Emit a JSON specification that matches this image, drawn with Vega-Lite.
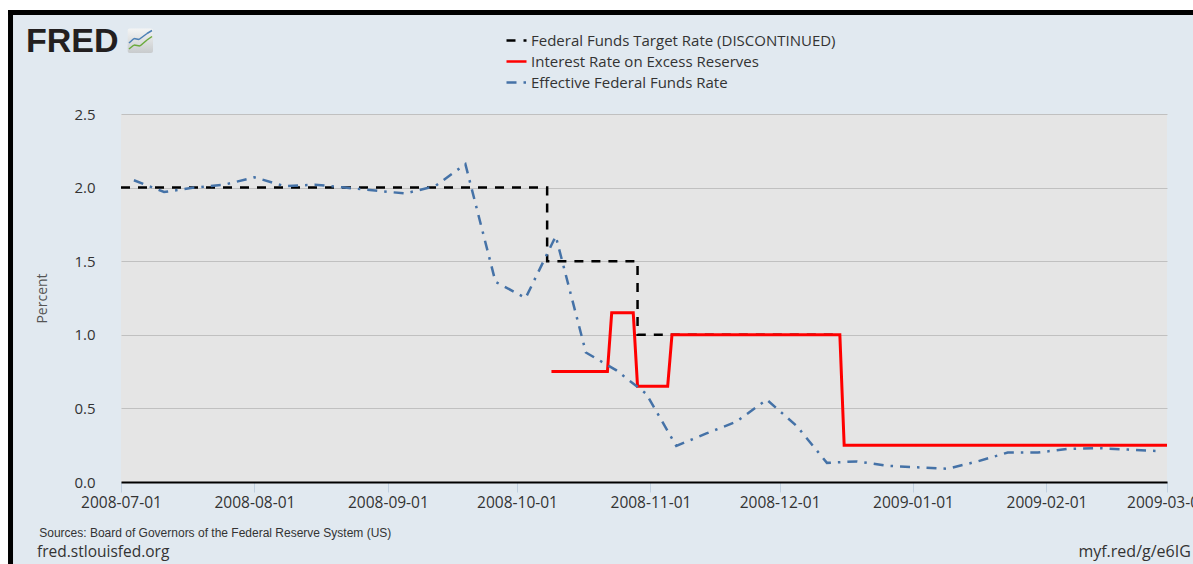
{
  "$schema": "https://vega.github.io/schema/vega-lite/v6.json",
  "width": 1046,
  "height": 368,
  "autosize": {"type": "none"},
  "padding": {"left": 121, "top": 114, "right": 26, "bottom": 82},
  "background": "#E1E9F0",
  "config": {
    "view": {"fill": "#E5E5E5", "stroke": null},
    "font": "Open Sans",
    "legend": {
      "orient": "none",
      "legendX": 384,
      "legendY": -85,
      "direction": "vertical",
      "symbolType": "stroke",
      "symbolSize": 400,
      "symbolStrokeWidth": 2.5,
      "labelFontSize": 15,
      "labelFont": "Open Sans",
      "labelColor": "#333333",
      "labelOffset": 3,
      "labelLimit": 500,
      "rowPadding": 1,
      "padding": 0,
      "title": null
    }
  },
  "datasets": {
    "rates": [
      {"series": "Federal Funds Target Rate (DISCONTINUED)", "date": "2008-07-01", "value": 2.0},
      {"series": "Federal Funds Target Rate (DISCONTINUED)", "date": "2008-10-08", "value": 1.5},
      {"series": "Federal Funds Target Rate (DISCONTINUED)", "date": "2008-10-29", "value": 1.0},
      {"series": "Federal Funds Target Rate (DISCONTINUED)", "date": "2008-12-15", "value": 1.0},
      {"series": "Interest Rate on Excess Reserves", "date": "2008-10-09", "value": 0.75},
      {"series": "Interest Rate on Excess Reserves", "date": "2008-10-22", "value": 0.75},
      {"series": "Interest Rate on Excess Reserves", "date": "2008-10-23", "value": 1.15},
      {"series": "Interest Rate on Excess Reserves", "date": "2008-10-28", "value": 1.15},
      {"series": "Interest Rate on Excess Reserves", "date": "2008-10-29", "value": 0.65},
      {"series": "Interest Rate on Excess Reserves", "date": "2008-11-05", "value": 0.65},
      {"series": "Interest Rate on Excess Reserves", "date": "2008-11-06", "value": 1.0},
      {"series": "Interest Rate on Excess Reserves", "date": "2008-12-15", "value": 1.0},
      {"series": "Interest Rate on Excess Reserves", "date": "2008-12-16", "value": 0.25},
      {"series": "Interest Rate on Excess Reserves", "date": "2009-03-01", "value": 0.25},
      {"series": "Effective Federal Funds Rate", "date": "2008-07-04", "value": 2.05},
      {"series": "Effective Federal Funds Rate", "date": "2008-07-11", "value": 1.97},
      {"series": "Effective Federal Funds Rate", "date": "2008-07-18", "value": 2.0},
      {"series": "Effective Federal Funds Rate", "date": "2008-07-25", "value": 2.02},
      {"series": "Effective Federal Funds Rate", "date": "2008-08-01", "value": 2.07},
      {"series": "Effective Federal Funds Rate", "date": "2008-08-08", "value": 2.01},
      {"series": "Effective Federal Funds Rate", "date": "2008-08-15", "value": 2.02},
      {"series": "Effective Federal Funds Rate", "date": "2008-08-22", "value": 2.0},
      {"series": "Effective Federal Funds Rate", "date": "2008-08-29", "value": 1.98},
      {"series": "Effective Federal Funds Rate", "date": "2008-09-05", "value": 1.96},
      {"series": "Effective Federal Funds Rate", "date": "2008-09-12", "value": 2.01},
      {"series": "Effective Federal Funds Rate", "date": "2008-09-19", "value": 2.16},
      {"series": "Effective Federal Funds Rate", "date": "2008-09-26", "value": 1.36},
      {"series": "Effective Federal Funds Rate", "date": "2008-10-03", "value": 1.25},
      {"series": "Effective Federal Funds Rate", "date": "2008-10-10", "value": 1.67},
      {"series": "Effective Federal Funds Rate", "date": "2008-10-17", "value": 0.88},
      {"series": "Effective Federal Funds Rate", "date": "2008-10-24", "value": 0.76},
      {"series": "Effective Federal Funds Rate", "date": "2008-10-31", "value": 0.6},
      {"series": "Effective Federal Funds Rate", "date": "2008-11-07", "value": 0.245},
      {"series": "Effective Federal Funds Rate", "date": "2008-11-14", "value": 0.33},
      {"series": "Effective Federal Funds Rate", "date": "2008-11-21", "value": 0.41},
      {"series": "Effective Federal Funds Rate", "date": "2008-11-28", "value": 0.56},
      {"series": "Effective Federal Funds Rate", "date": "2008-12-05", "value": 0.38},
      {"series": "Effective Federal Funds Rate", "date": "2008-12-12", "value": 0.13},
      {"series": "Effective Federal Funds Rate", "date": "2008-12-19", "value": 0.14},
      {"series": "Effective Federal Funds Rate", "date": "2008-12-26", "value": 0.11},
      {"series": "Effective Federal Funds Rate", "date": "2009-01-02", "value": 0.1},
      {"series": "Effective Federal Funds Rate", "date": "2009-01-09", "value": 0.09},
      {"series": "Effective Federal Funds Rate", "date": "2009-01-16", "value": 0.14},
      {"series": "Effective Federal Funds Rate", "date": "2009-01-23", "value": 0.2},
      {"series": "Effective Federal Funds Rate", "date": "2009-01-30", "value": 0.2},
      {"series": "Effective Federal Funds Rate", "date": "2009-02-06", "value": 0.225},
      {"series": "Effective Federal Funds Rate", "date": "2009-02-13", "value": 0.23},
      {"series": "Effective Federal Funds Rate", "date": "2009-02-20", "value": 0.22},
      {"series": "Effective Federal Funds Rate", "date": "2009-02-27", "value": 0.21}
    ],
    "one": [{}]
  },
  "layer": [
    {
      "data": {"name": "rates"},
      "transform": [{"filter": "datum.series === 'Federal Funds Target Rate (DISCONTINUED)'"}],
      "mark": {"type": "line", "interpolate": "step-after", "strokeWidth": 2.5, "strokeCap": "butt"},
      "encoding": {
        "x": {
          "field": "date", "type": "temporal",
          "scale": {"type": "utc", "domain": [{"year": 2008, "month": 7, "date": 1, "utc": true}, {"year": 2009, "month": 3, "date": 1, "utc": true}]},
          "axis": {
            "title": null,
            "format": "%Y-%m-%d",
            "values": [
              {"year": 2008, "month": 7, "date": 1, "utc": true},
              {"year": 2008, "month": 8, "date": 1, "utc": true},
              {"year": 2008, "month": 9, "date": 1, "utc": true},
              {"year": 2008, "month": 10, "date": 1, "utc": true},
              {"year": 2008, "month": 11, "date": 1, "utc": true},
              {"year": 2008, "month": 12, "date": 1, "utc": true},
              {"year": 2009, "month": 1, "date": 1, "utc": true},
              {"year": 2009, "month": 2, "date": 1, "utc": true},
              {"year": 2009, "month": 3, "date": 1, "utc": true}
            ],
            "grid": false,
            "domainColor": "#000000",
            "domainWidth": 2,
            "tickColor": "#C0D0E0",
            "tickSize": 10,
            "tickWidth": 1,
            "labelFontSize": 15.5,
            "labelFont": "Open Sans",
            "labelColor": "#333333",
            "labelPadding": 3,
            "labelFlush": false,
            "labelOverlap": false
          }
        },
        "y": {
          "field": "value", "type": "quantitative",
          "scale": {"domain": [0, 2.5], "nice": false, "zero": false},
          "axis": {
            "title": "Percent",
            "values": [0, 0.5, 1, 1.5, 2, 2.5],
            "format": ".1f",
            "grid": true,
            "gridColor": "#C0C0C0",
            "gridWidth": 1,
            "domain": false,
            "ticks": false,
            "labelPadding": 26,
            "labelFontSize": 15,
            "labelFont": "Open Sans",
            "labelColor": "#333333",
            "titleFont": "Open Sans",
            "titleFontSize": 14,
            "titleFontWeight": "normal",
            "titleColor": "#555555",
            "titlePadding": 24
          }
        },
        "color": {
          "field": "series", "type": "nominal",
          "scale": {
            "domain": ["Federal Funds Target Rate (DISCONTINUED)", "Interest Rate on Excess Reserves", "Effective Federal Funds Rate"],
            "range": ["#000000", "#FF0000", "#4572A7"]
          }
        },
        "strokeDash": {
          "field": "series", "type": "nominal",
          "scale": {
            "domain": ["Federal Funds Target Rate (DISCONTINUED)", "Interest Rate on Excess Reserves", "Effective Federal Funds Rate"],
            "range": [[9, 8], [1, 0], [10, 7, 2.5, 7]]
          }
        }
      }
    },
    {
      "data": {"name": "rates"},
      "transform": [{"filter": "datum.series === 'Interest Rate on Excess Reserves'"}],
      "mark": {"type": "line", "strokeWidth": 3, "strokeCap": "butt"},
      "encoding": {
        "x": {"field": "date", "type": "temporal"},
        "y": {"field": "value", "type": "quantitative"},
        "color": {"field": "series", "type": "nominal"},
        "strokeDash": {"field": "series", "type": "nominal"}
      }
    },
    {
      "data": {"name": "rates"},
      "transform": [{"filter": "datum.series === 'Effective Federal Funds Rate'"}],
      "mark": {"type": "line", "strokeWidth": 2.5, "strokeCap": "butt"},
      "encoding": {
        "x": {"field": "date", "type": "temporal"},
        "y": {"field": "value", "type": "quantitative"},
        "color": {"field": "series", "type": "nominal"},
        "strokeDash": {"field": "series", "type": "nominal"}
      }
    },
    {
      "data": {"name": "one"},
      "mark": {"type": "rule", "color": "#FFFFFF", "strokeWidth": 10},
      "encoding": {
        "x": {"datum": {"year": 2008, "month": 5, "date": 31, "utc": true}},
        "x2": {"datum": {"year": 2009, "month": 3, "date": 10, "utc": true}},
        "y": {"datum": 3.2405}
      }
    },
    {
      "data": {"name": "one"},
      "mark": {"type": "rule", "color": "#FFFFFF", "strokeWidth": 8},
      "encoding": {
        "x": {"datum": {"year": 2008, "month": 6, "date": 3, "hours": 19, "minutes": 40, "utc": true}},
        "y": {"datum": 3.35},
        "y2": {"datum": -0.6}
      }
    },
    {
      "data": {"name": "one"},
      "mark": {"type": "rule", "color": "#000000", "strokeWidth": 5},
      "encoding": {
        "x": {"datum": {"year": 2008, "month": 6, "date": 4, "hours": 18, "utc": true}},
        "x2": {"datum": {"year": 2009, "month": 3, "date": 10, "utc": true}},
        "y": {"datum": 3.1895}
      }
    },
    {
      "data": {"name": "one"},
      "mark": {"type": "rule", "color": "#000000", "strokeWidth": 5},
      "encoding": {
        "x": {"datum": {"year": 2008, "month": 6, "date": 5, "hours": 8, "utc": true}},
        "y": {"datum": 3.2065},
        "y2": {"datum": -0.6}
      }
    },
    {
      "data": {"name": "one"},
      "mark": {"type": "text", "text": "FRED", "font": "Liberation Sans", "fontSize": 34, "fontWeight": "bold", "color": "#231F20", "align": "left", "baseline": "alphabetic"},
      "encoding": {
        "x": {"datum": {"year": 2008, "month": 6, "date": 8, "hours": 22, "utc": true}},
        "y": {"datum": 2.921}
      }
    },
    {
      "data": {"name": "one"},
      "mark": {"type": "rect", "cornerRadius": 2, "color": {"gradient": "linear", "x1": 0, "y1": 0, "x2": 0, "y2": 1, "stops": [{"offset": 0, "color": "#F4F5F5"}, {"offset": 1, "color": "#C8CBCD"}]}},
      "encoding": {
        "x": {"datum": {"year": 2008, "month": 7, "date": 2, "hours": 13, "minutes": 20, "utc": true}},
        "x2": {"datum": {"year": 2008, "month": 7, "date": 8, "hours": 10, "minutes": 25, "utc": true}},
        "y": {"datum": 3.081},
        "y2": {"datum": 2.9144}
      }
    },
    {
      "data": {"name": "one"},
      "mark": {"type": "rule", "color": "#4A7FB5", "strokeWidth": 1.5},
      "encoding": {
        "x": {"datum": {"year": 2008, "month": 7, "date": 2, "hours": 20, "minutes": 36, "utc": true}},
        "x2": {"datum": {"year": 2008, "month": 7, "date": 4, "minutes": 30, "utc": true}},
        "y": {"datum": 2.9823},
        "y2": {"datum": 3.0129}
      }
    },
    {
      "data": {"name": "one"},
      "mark": {"type": "rule", "color": "#4A7FB5", "strokeWidth": 1.5},
      "encoding": {
        "x": {"datum": {"year": 2008, "month": 7, "date": 4, "minutes": 30, "utc": true}},
        "x2": {"datum": {"year": 2008, "month": 7, "date": 5, "hours": 4, "minutes": 22, "utc": true}},
        "y": {"datum": 3.0129},
        "y2": {"datum": 3.0061}
      }
    },
    {
      "data": {"name": "one"},
      "mark": {"type": "rule", "color": "#4A7FB5", "strokeWidth": 1.5},
      "encoding": {
        "x": {"datum": {"year": 2008, "month": 7, "date": 5, "hours": 4, "minutes": 22, "utc": true}},
        "x2": {"datum": {"year": 2008, "month": 7, "date": 7, "hours": 1, "utc": true}},
        "y": {"datum": 3.0061},
        "y2": {"datum": 3.0469}
      }
    },
    {
      "data": {"name": "one"},
      "mark": {"type": "rule", "color": "#4A7FB5", "strokeWidth": 1.5},
      "encoding": {
        "x": {"datum": {"year": 2008, "month": 7, "date": 7, "hours": 1, "utc": true}},
        "x2": {"datum": {"year": 2008, "month": 7, "date": 8, "hours": 4, "minutes": 50, "utc": true}},
        "y": {"datum": 3.0469},
        "y2": {"datum": 3.0673}
      }
    },
    {
      "data": {"name": "one"},
      "mark": {"type": "rule", "color": "#6BAA3C", "strokeWidth": 1.5},
      "encoding": {
        "x": {"datum": {"year": 2008, "month": 7, "date": 2, "hours": 20, "minutes": 36, "utc": true}},
        "x2": {"datum": {"year": 2008, "month": 7, "date": 4, "minutes": 30, "utc": true}},
        "y": {"datum": 2.9416},
        "y2": {"datum": 2.9688}
      }
    },
    {
      "data": {"name": "one"},
      "mark": {"type": "rule", "color": "#6BAA3C", "strokeWidth": 1.5},
      "encoding": {
        "x": {"datum": {"year": 2008, "month": 7, "date": 4, "minutes": 30, "utc": true}},
        "x2": {"datum": {"year": 2008, "month": 7, "date": 5, "hours": 9, "minutes": 56, "utc": true}},
        "y": {"datum": 2.9688},
        "y2": {"datum": 2.962}
      }
    },
    {
      "data": {"name": "one"},
      "mark": {"type": "rule", "color": "#6BAA3C", "strokeWidth": 1.5},
      "encoding": {
        "x": {"datum": {"year": 2008, "month": 7, "date": 5, "hours": 9, "minutes": 56, "utc": true}},
        "x2": {"datum": {"year": 2008, "month": 7, "date": 7, "hours": 1, "utc": true}},
        "y": {"datum": 2.962},
        "y2": {"datum": 3.0027}
      }
    },
    {
      "data": {"name": "one"},
      "mark": {"type": "rule", "color": "#6BAA3C", "strokeWidth": 1.5},
      "encoding": {
        "x": {"datum": {"year": 2008, "month": 7, "date": 7, "hours": 1, "utc": true}},
        "x2": {"datum": {"year": 2008, "month": 7, "date": 8, "hours": 4, "minutes": 50, "utc": true}},
        "y": {"datum": 3.0027},
        "y2": {"datum": 3.0265}
      }
    },
    {
      "data": {"name": "one"},
      "mark": {"type": "text", "text": "Sources: Board of Governors of the Federal Reserve System (US)", "font": "Liberation Sans", "fontSize": 12, "color": "#333333", "align": "left", "baseline": "alphabetic"},
      "encoding": {
        "x": {"datum": {"year": 2008, "month": 6, "date": 12, "utc": true}},
        "y": {"datum": -0.376}
      }
    },
    {
      "data": {"name": "one"},
      "mark": {"type": "text", "text": "fred.stlouisfed.org", "font": "Open Sans", "fontSize": 15.5, "color": "#333333", "align": "left", "baseline": "alphabetic"},
      "encoding": {
        "x": {"datum": {"year": 2008, "month": 6, "date": 11, "hours": 12, "utc": true}},
        "y": {"datum": -0.51}
      }
    },
    {
      "data": {"name": "one"},
      "mark": {"type": "text", "text": "myf.red/g/e6IG", "font": "Open Sans", "fontSize": 16, "color": "#333333", "align": "left", "baseline": "alphabetic"},
      "encoding": {
        "x": {"datum": {"year": 2009, "month": 2, "date": 8, "hours": 10, "utc": true}},
        "y": {"datum": -0.51}
      }
    }
  ]
}
